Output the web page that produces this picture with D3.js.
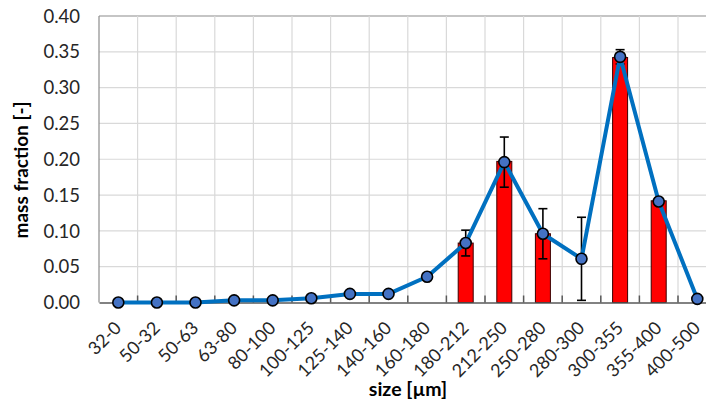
<!DOCTYPE html>
<html>
<head>
<meta charset="utf-8">
<script src="https://cdn.jsdelivr.net/npm/d3@7"></script>
<style>
	body { margin: 0; background: #fff; }
	svg { display: block; }
</style>
</head>
<body>
<div id="chart"></div>
<script>
var W = 706, H = 403;

var categories = ["32-0", "50-32", "50-63", "63-80", "80-100", "100-125", "125-140", "140-160",
	"160-180", "180-212", "212-250", "250-280", "280-300", "300-355", "355-400", "400-500"];
// blue line (mean mass fraction)
var lineVals = [0, 0, 0, 0.003, 0.003, 0.006, 0.012, 0.012,
	0.036, 0.083, 0.196, 0.096, 0.061, 0.343, 0.141, 0.005];
// red bars
var barVals = [0, 0, 0, 0, 0, 0, 0, 0,
	0, 0.083, 0.197, 0.096, 0, 0.342, 0.142, 0];
// +/- error on the line values
var errVals = [0, 0, 0, 0, 0, 0, 0, 0,
	0, 0.018, 0.035, 0.035, 0.058, 0.010, 0, 0];
var yTicks = [0, 0.05, 0.10, 0.15, 0.20, 0.25, 0.30, 0.35, 0.40];

var font = "Lato, 'DejaVu Sans', sans-serif";
var blue = "#0070c0";

// plot box (right edge runs past the picture, as in the reference)
var pLeft = 99, pTop = 16, pRight = 716.6, pBottom = 302.5;

var x = d3.scaleBand().domain(categories).range([pLeft, pRight]);
var y = d3.scaleLinear().domain([0, 0.40]).range([pBottom, pTop]);

var svg = d3.select("#chart").append("svg")
	.attr("width", W)
	.attr("height", H);

// gridlines
svg.append("g").selectAll("line")
	.data(yTicks.slice(1))
	.enter()
	.append("line")
	.attr("x1", pLeft).attr("x2", pRight)
	.attr("y1", d => y(d)).attr("y2", d => y(d))
	.attr("stroke", d => d === 0.40 ? "#8c8c8c" : "#d9d9d9")
	.attr("stroke-width", 1.2);

svg.append("g").selectAll("line")
	.data(categories.slice(1))
	.enter()
	.append("line")
	.attr("x1", d => x(d)).attr("x2", d => x(d))
	.attr("y1", pTop).attr("y2", pBottom)
	.attr("stroke", "#d9d9d9")
	.attr("stroke-width", 1.2);

// left axis line
svg.append("line")
	.attr("x1", pLeft).attr("x2", pLeft)
	.attr("y1", pTop).attr("y2", pBottom)
	.attr("stroke", "#8c8c8c")
	.attr("stroke-width", 1.2);

// bars
var bw = 15;
svg.append("g").selectAll("rect")
	.data(categories.map((c, i) => [c, barVals[i]]).filter(d => d[1] > 0))
	.enter()
	.append("rect")
	.attr("x", d => x(d[0]) + x.bandwidth() / 2 - bw / 2)
	.attr("y", d => y(d[1]))
	.attr("width", bw)
	.attr("height", d => y(0) - y(d[1]))
	.attr("fill", "#ff0000")
	.attr("stroke", "#3a0000")
	.attr("stroke-width", 1);

// bottom axis with inside ticks
var xAxis = d3.axisBottom(x).tickSize(0).tickFormat("");
svg.append("g")
	.attr("transform", "translate(0," + pBottom + ")")
	.call(xAxis)
	.call(g => g.select(".domain").attr("stroke", "#595959").attr("stroke-width", 1.5));

svg.append("g").selectAll("line")
	.data(categories.slice(1))
	.enter()
	.append("line")
	.attr("x1", d => x(d)).attr("x2", d => x(d))
	.attr("y1", pBottom - 7).attr("y2", pBottom)
	.attr("stroke", "#595959")
	.attr("stroke-width", 1.5);

// error bars
var errs = categories.map((c, i) => [c, lineVals[i], errVals[i]]).filter(d => d[2] > 0);
var eg = svg.append("g").attr("stroke", "#000").attr("stroke-width", 1.6);
errs.forEach(function(d) {
	var cx = x(d[0]) + x.bandwidth() / 2;
	var y1 = y(d[1] + d[2]), y2 = y(d[1] - d[2]);
	eg.append("line").attr("x1", cx).attr("x2", cx).attr("y1", y1).attr("y2", y2);
	eg.append("line").attr("x1", cx - 4.5).attr("x2", cx + 4.5).attr("y1", y1).attr("y2", y1);
	eg.append("line").attr("x1", cx - 4.5).attr("x2", cx + 4.5).attr("y1", y2).attr("y2", y2);
});

// line + markers
var pts = categories.map((c, i) => [x(c) + x.bandwidth() / 2, y(lineVals[i])]);
svg.append("path")
	.attr("d", d3.line()(pts))
	.attr("fill", "none")
	.attr("stroke", blue)
	.attr("stroke-width", 4)
	.attr("stroke-linejoin", "round");

svg.append("g").selectAll("circle")
	.data(pts)
	.enter()
	.append("circle")
	.attr("cx", d => d[0])
	.attr("cy", d => d[1])
	.attr("r", 5.5)
	.attr("fill", "#4472c4")
	.attr("stroke", "#000")
	.attr("stroke-width", 1.6);

// y tick labels
svg.append("g").selectAll("text")
	.data(yTicks)
	.enter()
	.append("text")
	.attr("x", 80)
	.attr("y", d => y(d))
	.attr("dy", "0.36em")
	.attr("text-anchor", "end")
	.style("font-family", font)
	.style("font-size", "18.5px")
	.attr("fill", "#262626")
	.text(d => d.toFixed(2));

// x tick labels, rotated
svg.append("g").selectAll("text")
	.data(categories)
	.enter()
	.append("text")
	.attr("transform", d => "translate(" + (x(d) + x.bandwidth() / 2 - 5) + ",320) rotate(-45)")
	.attr("dy", "0.72em")
	.attr("text-anchor", "end")
	.style("font-family", font)
	.style("font-size", "18px")
	.attr("fill", "#262626")
	.text(d => d);

// axis titles
svg.append("text")
	.attr("transform", "translate(28,170) rotate(-90)")
	.attr("text-anchor", "middle")
	.style("font-family", font)
	.style("font-size", "19px")
	.style("font-weight", "bold")
	.attr("fill", "#000")
	.text("mass fraction [-]");

svg.append("text")
	.attr("x", 408)
	.attr("y", 396)
	.attr("text-anchor", "middle")
	.style("font-family", font)
	.style("font-size", "19.5px")
	.style("font-weight", "bold")
	.attr("fill", "#000")
	.text("size [µm]");
</script>
</body>
</html>
